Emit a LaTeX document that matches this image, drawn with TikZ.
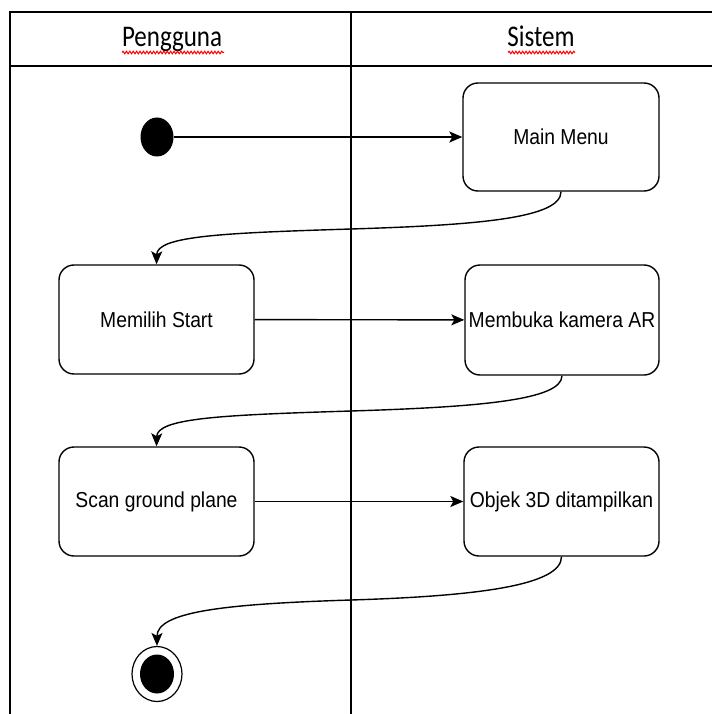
\documentclass[tikz,border=0pt]{standalone}
\usepackage{fontspec}
\setmainfont{Liberation Sans}
\newfontfamily\headfont{Carlito}
\usetikzlibrary{arrows.meta,shapes.geometric,decorations.pathmorphing}
\tikzset{
  x=1pt, y=-1pt,
  lane/.style={line width=1.3pt, black},
  actbox/.style={draw=black, line width=1.4pt, rounded corners=15pt, fill=white,
    inner sep=0pt, font=\fontsize{19.3}{22}\selectfont},
  flow/.style={line width=1.4pt, black, -{Stealth[length=13pt,width=11pt,inset=3pt]}},
  headtxt/.style={anchor=base, inner sep=0pt, font=\headfont\fontsize{25}{28}\selectfont},
  spell/.style={red, line width=1pt, decorate,
    decoration={snake, segment length=3.4pt, amplitude=1.3pt}}
}
\newcommand{\vs}[1]{\scalebox{1}[1.12]{#1}}
\begin{document}
\begin{tikzpicture}
\useasboundingbox (0,0) rectangle (712,714);
% swimlane table
\draw[lane] (10,714) -- (10,12) -- (712,12);
\draw[lane] (10,66) -- (712,66);
\draw[lane] (351,12) -- (351,714);
\node[headtxt] (hp) at (172,47) {\scalebox{1}[1.2]{Pengguna}};
\node[headtxt] (hs) at (541,47) {\scalebox{1}[1.2]{Sistem}};
\draw[spell] (122,52.5) -- (224,52.5);
\draw[spell] (508,52.5) -- (575,52.5);
% nodes
\node[ellipse, fill=black, inner sep=0pt, minimum width=33pt, minimum height=39pt] (start) at (157,137) {};
\node[actbox, minimum width=196pt, minimum height=108pt] (mm) at (561,137) {\vs{Main Menu}};
\node[actbox, minimum width=195pt, minimum height=109pt] (ms) at (156.5,319.5) {\vs{Memilih Start}};
\node[actbox, minimum width=194pt, minimum height=110pt] (mk) at (562,320) {\vs{Membuka kamera AR}};
\node[actbox, minimum width=195pt, minimum height=109pt] (sg) at (156.5,501.5) {\vs{Scan ground plane}};
\node[actbox, minimum width=195pt, minimum height=109pt] (ob) at (561.5,501.5) {\vs{Objek 3D ditampilkan}};
\node[ellipse, draw=black, line width=1.2pt, fill=white, inner sep=0pt, minimum width=50pt, minimum height=55pt] (endo) at (157,674) {};
\node[ellipse, fill=black, inner sep=0pt, minimum width=34pt, minimum height=39pt] (endi) at (157,674) {};
% connectors
\draw[flow] (start) -- (mm);
\draw[flow] (ms) -- (mk);
\draw[flow] (sg) -- (ob);
\draw[flow] (mm.south) .. controls (561,218) and (480,225) .. (351,229)
  .. controls (222,233) and (157,236) .. (ms.north);
\draw[flow] (mk.south) .. controls (562,400) and (480,407) .. (351,411)
  .. controls (222,415) and (157,418) .. (sg.north);
\draw[flow] (ob.south) .. controls (561.5,585) and (480,596) .. (351,600)
  .. controls (222,604) and (157,612) .. (endo.north);
\end{tikzpicture}
\end{document}
